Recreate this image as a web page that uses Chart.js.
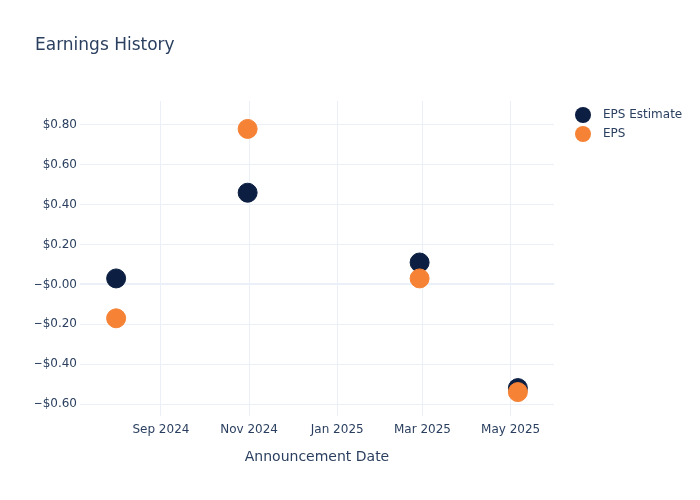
<!DOCTYPE html>
<html>
<head>
<meta charset="utf-8">
<title>Earnings History</title>
<script src="https://cdn.jsdelivr.net/npm/chart.js@4.4.1/dist/chart.umd.min.js"></script>
<style>
  html, body { margin: 0; padding: 0; background: #fff; }
  canvas { display: block; }
</style>
</head>
<body>
<canvas id="chart" width="700" height="500"></canvas>
<script>
// data
const announceDates = ["2024-08-01", "2024-10-31", "2025-02-27", "2025-05-06"];
const epsEstimate = [0.03, 0.46, 0.11, -0.52];
const epsActual = [-0.17, 0.78, 0.03, -0.54];

// axis ticks
const xTickDates = ["2024-09-01", "2024-11-01", "2025-01-01", "2025-03-01", "2025-05-01"];
const xTickLabels = ["Sep 2024", "Nov 2024", "Jan 2025", "Mar 2025", "May 2025"];
const yTickValues = [-0.6, -0.4, -0.2, 0, 0.2, 0.4, 0.6, 0.8];
const yTickLabels = ["\u2212$0.60", "\u2212$0.40", "\u2212$0.20", "\u2212$0.00", "$0.20", "$0.40", "$0.60", "$0.80"];

const FONT = "'DejaVu Sans', sans-serif";
const TEXT = "#2a3f5f";
const GRID = "#ebf0f8";
const NAVY = "#0c1f42";
const ORANGE = "#f58235";

const toMs = (d) => Date.parse(d + "T00:00:00Z");
const xTicks = xTickDates.map(toMs);

const series = [
    { label: "EPS Estimate", values: epsEstimate, color: NAVY },
    { label: "EPS", values: epsActual, color: ORANGE }
];

// title + legend drawn in the page's margin
const extras = {
    id: "extras",
    afterDraw(chart) {
        const ctx = chart.ctx;
        ctx.save();
        ctx.fillStyle = TEXT;
        ctx.font = "17px " + FONT;
        ctx.textBaseline = "middle";
        ctx.textAlign = "left";
        ctx.fillText("Earnings History", 35, 45.5);

        ctx.font = "12px " + FONT;
        series.forEach((s, i) => {
            const y = 115 + i * 19;
            ctx.beginPath();
            ctx.arc(583, y, 8, 0, Math.PI * 2);
            ctx.fillStyle = s.color;
            ctx.fill();
            ctx.fillStyle = TEXT;
            ctx.fillText(s.label, 603, y);
        });
        ctx.restore();
    }
};

new Chart(document.getElementById("chart"), {
    type: "scatter",
    data: {
        datasets: series.map((s, i) => ({
            label: s.label,
            data: announceDates.map((d, j) => ({ x: toMs(d), y: s.values[j] })),
            backgroundColor: s.color,
            borderColor: s.color,
            borderWidth: 1,
            pointRadius: 9.5,
            pointHoverRadius: 9.5,
            order: series.length - i   // EPS on top
        }))
    },
    options: {
        responsive: false,
        animation: false,
        layout: { padding: { left: 35, right: 146, top: 101, bottom: 0 } },
        plugins: {
            legend: { display: false },
            title: { display: false },
            tooltip: { enabled: false }
        },
        scales: {
            x: {
                type: "linear",
                min: toMs("2024-07-07"),
                max: toMs("2025-05-31"),
                afterBuildTicks: (scale) => { scale.ticks = xTicks.map(v => ({ value: v })); },
                afterFit: (scale) => { scale.height = 84; },
                ticks: {
                    callback: (v) => xTickLabels[xTicks.indexOf(v)] ?? "",
                    font: { family: FONT, size: 12 },
                    color: TEXT,
                    padding: 7,
                    maxRotation: 0,
                    autoSkip: false
                },
                grid: { color: GRID, lineWidth: 1, drawTicks: false },
                border: { display: false },
                title: {
                    display: true,
                    text: "Announcement Date",
                    font: { family: FONT, size: 14 },
                    color: TEXT,
                    padding: { top: 0, bottom: 34 }
                }
            },
            y: {
                type: "linear",
                min: -0.66,
                max: 0.92,
                afterBuildTicks: (scale) => { scale.ticks = yTickValues.map(v => ({ value: v })); },
                afterFit: (scale) => { scale.width = 45; },
                ticks: {
                    callback: (v) => yTickLabels[yTickValues.findIndex(t => Math.abs(t - v) < 1e-9)] ?? "",
                    font: { family: FONT, size: 12 },
                    color: TEXT,
                    padding: 3,
                    autoSkip: false
                },
                grid: {
                    color: GRID,
                    lineWidth: (c) => (c.tick && Math.abs(c.tick.value) < 1e-9 ? 2 : 1),
                    drawTicks: false
                },
                border: { display: false }
            }
        }
    },
    plugins: [extras]
});
</script>
</body>
</html>
